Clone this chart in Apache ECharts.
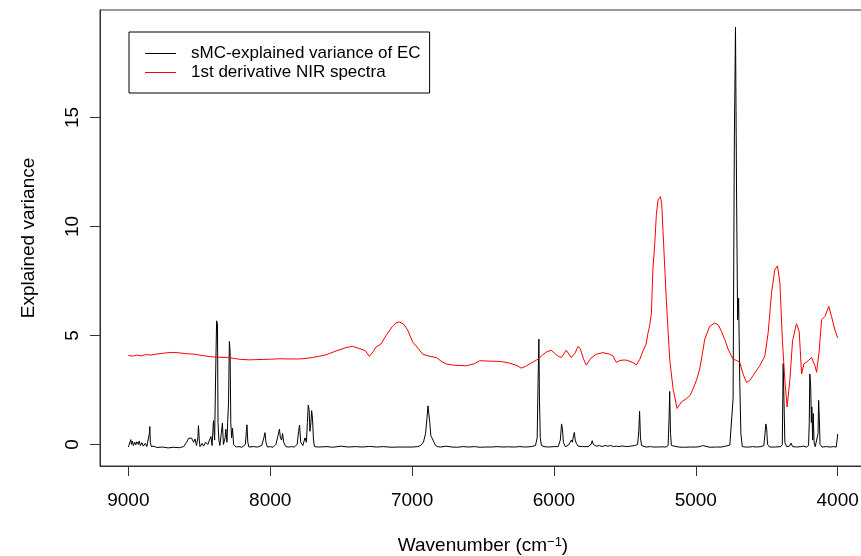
<!DOCTYPE html>
<html>
<head>
<meta charset="utf-8">
<script src="https://cdn.jsdelivr.net/npm/echarts@6/dist/echarts.min.js"></script>
<style>
  html, body { margin: 0; padding: 0; background: #fff; }
  #chart { width: 861px; height: 556px; }
</style>
</head>
<body>
<div id="chart"></div>
<script>
// sMC-explained variance of EC: [wavenumber, value]
const smcVariance = [
  [9000,-0.12],[8990,-0.05],[8983,0.22],[8978,0.0],[8972,0.15],[8965,-0.05],[8955,0.1],[8948,-0.02],
  [8940,0.12],[8930,0.0],[8924,0.15],[8915,-0.05],[8905,0.08],[8895,-0.08],[8880,0.05],[8870,-0.1],
  [8858,-0.05],[8852,0.5],[8849,0.82],[8845,0.1],[8838,-0.1],[8820,-0.08],[8800,-0.14],[8760,-0.12],
  [8720,-0.16],[8680,-0.13],[8640,-0.15],[8610,-0.1],[8590,0.1],[8575,0.28],[8555,0.29],[8540,0.1],
  [8530,0.25],[8520,-0.05],[8510,0.3],[8506,0.86],[8500,0.2],[8495,-0.1],[8480,0.05],[8470,-0.08],
  [8455,0.1],[8440,0.0],[8428,0.2],[8418,0.36],[8410,-0.05],[8400,1.09],[8392,0.2],[8384,3.5],
  [8378,5.67],[8372,5.52],[8368,1.0],[8362,0.2],[8355,-0.05],[8345,0.5],[8337,0.97],[8330,0.0],
  [8318,0.3],[8313,0.7],[8305,0.1],[8300,1.0],[8294,1.9],[8288,4.72],[8283,4.3],[8278,1.0],
  [8272,0.3],[8266,0.74],[8258,0.0],[8240,-0.12],[8220,-0.1],[8200,-0.13],[8175,0.0],[8168,0.6],
  [8164,0.9],[8158,0.1],[8150,-0.12],[8120,-0.1],[8090,-0.12],[8060,-0.05],[8045,0.3],[8037,0.54],
  [8030,0.1],[8020,-0.12],[8000,-0.1],[7980,-0.13],[7960,0.0],[7945,0.4],[7935,0.7],[7928,0.3],
  [7920,0.2],[7913,0.5],[7905,0.1],[7890,-0.1],[7870,-0.12],[7850,-0.1],[7830,-0.12],[7810,0.0],
  [7800,0.6],[7793,0.89],[7785,0.1],[7770,-0.05],[7755,0.3],[7745,0.1],[7738,1.0],[7732,1.8],
  [7726,1.6],[7720,0.6],[7713,1.0],[7708,1.55],[7702,1.2],[7695,0.2],[7688,-0.1],[7660,-0.12],
  [7600,-0.1],[7560,-0.13],[7500,-0.08],[7450,-0.12],[7400,-0.1],[7350,-0.12],[7300,-0.09],[7250,-0.12],
  [7200,-0.1],[7150,-0.13],[7100,-0.12],[7050,-0.12],[7000,-0.12],[6960,-0.1],[6940,-0.05],[6920,0.1],
  [6905,0.5],[6895,1.2],[6888,1.77],[6882,1.75],[6875,1.0],[6868,0.4],[6860,0.3],[6852,0.36],
  [6845,0.1],[6835,-0.05],[6820,-0.1],[6800,-0.12],[6760,-0.08],[6720,-0.12],[6680,-0.13],[6640,-0.1],
  [6600,-0.12],[6560,-0.1],[6520,-0.13],[6480,-0.12],[6440,-0.12],[6400,-0.1],[6360,-0.12],[6320,-0.11],
  [6280,-0.12],[6240,-0.1],[6200,-0.12],[6160,-0.1],[6130,-0.05],[6118,0.3],[6112,2.8],[6106,4.83],
  [6102,2.0],[6096,0.3],[6088,-0.05],[6070,-0.1],[6040,-0.12],[6000,-0.1],[5970,-0.1],[5955,0.2],
  [5946,0.94],[5940,0.7],[5933,0.1],[5920,-0.1],[5900,-0.05],[5885,0.1],[5877,0.2],[5870,0.1],
  [5862,0.4],[5856,0.55],[5850,0.2],[5842,0.05],[5830,-0.08],[5800,-0.1],[5760,-0.1],[5738,0.0],
  [5730,0.17],[5722,0.0],[5700,-0.08],[5680,-0.05],[5660,-0.1],[5640,-0.05],[5620,-0.08],[5600,-0.05],
  [5580,-0.1],[5560,-0.08],[5540,-0.1],[5520,-0.07],[5490,-0.1],[5460,-0.08],[5430,-0.05],[5410,0.0],
  [5402,0.6],[5396,1.52],[5390,0.3],[5382,-0.05],[5370,-0.1],[5350,-0.12],[5320,-0.1],[5300,-0.12],
  [5270,-0.12],[5240,-0.11],[5210,-0.12],[5195,-0.05],[5188,1.27],[5184,2.43],[5178,0.5],[5172,-0.05],
  [5160,-0.12],[5120,-0.12],[5080,-0.13],[5040,-0.12],[5000,-0.12],[4970,-0.1],[4953,-0.05],[4945,-0.12],
  [4900,-0.13],[4860,-0.12],[4820,-0.12],[4790,-0.08],[4760,-0.03],[4748,0.0],[4737,2.1],[4728,14.06],
  [4720,19.15],[4712,11.07],[4705,5.72],[4698,6.71],[4690,2.85],[4682,0.5],[4672,-0.1],[4650,-0.12],
  [4620,-0.12],[4600,-0.1],[4570,-0.12],[4540,-0.1],[4520,-0.05],[4512,0.5],[4506,0.94],[4500,0.69],
  [4494,0.0],[4480,-0.12],[4440,-0.12],[4400,-0.1],[4390,0.0],[4384,3.71],[4378,1.95],[4372,0.1],
  [4360,-0.1],[4340,-0.08],[4328,0.06],[4318,-0.1],[4290,-0.12],[4260,-0.1],[4240,-0.08],[4220,-0.12],
  [4205,-0.05],[4200,1.0],[4196,3.23],[4190,2.67],[4185,1.0],[4182,1.72],[4176,0.2],[4172,1.42],
  [4166,0.1],[4158,-0.1],[4145,-0.12],[4138,0.5],[4134,2.02],[4129,1.19],[4124,0.0],[4110,-0.12],
  [4080,-0.1],[4050,-0.12],[4030,-0.1],[4010,-0.12],[4002,0.3],[4000,0.48]
];

// 1st derivative NIR spectra (offset): [wavenumber, value]
const nirDerivative = [
  [9000,4.08],[8970,4.05],[8940,4.1],[8910,4.06],[8880,4.12],[8840,4.1],[8800,4.15],[8760,4.18],
  [8713,4.21],[8680,4.22],[8640,4.2],[8590,4.16],[8536,4.14],[8480,4.08],[8430,4.03],[8370,4.0],
  [8303,3.99],[8250,3.94],[8207,3.9],[8148,3.88],[8100,3.89],[8050,3.9],[7990,3.91],[7937,3.93],
  [7870,3.92],[7795,3.92],[7740,3.95],[7701,3.99],[7650,4.05],[7607,4.11],[7583,4.17],[7530,4.3],
  [7466,4.44],[7420,4.5],[7372,4.4],[7330,4.3],[7301,4.04],[7275,4.25],[7254,4.47],[7220,4.6],
  [7183,5.0],[7140,5.4],[7113,5.57],[7090,5.62],[7060,5.52],[7031,5.25],[6996,4.7],[6972,4.52],
  [6925,4.14],[6880,4.05],[6830,3.99],[6790,3.8],[6760,3.69],[6700,3.63],[6619,3.61],[6560,3.7],
  [6525,3.84],[6450,3.82],[6400,3.81],[6360,3.79],[6313,3.73],[6260,3.62],[6231,3.5],[6200,3.58],
  [6172,3.69],[6113,3.91],[6080,4.1],[6054,4.24],[6019,4.32],[5995,4.18],[5970,4.05],[5948,3.99],
  [5930,4.15],[5913,4.32],[5895,4.15],[5878,3.99],[5866,3.96],[5850,4.2],[5831,4.49],[5815,4.4],
  [5790,3.9],[5772,3.64],[5740,3.95],[5701,4.14],[5654,4.21],[5607,4.14],[5584,4.06],[5560,3.76],
  [5535,3.85],[5513,3.87],[5490,3.87],[5443,3.76],[5419,3.65],[5395,3.9],[5372,4.29],[5350,4.6],
  [5337,5.1],[5325,5.45],[5313,6.02],[5302,8.09],[5290,9.11],[5278,10.53],[5266,11.22],[5249,11.37],
  [5240,11.04],[5231,9.77],[5207,6.56],[5184,3.91],[5160,2.55],[5132,1.65],[5120,1.7],[5101,1.95],
  [5066,2.1],[5040,2.25],[5019,2.55],[4995,2.95],[4972,3.46],[4950,4.3],[4937,4.82],[4902,5.42],
  [4866,5.57],[4840,5.47],[4819,5.18],[4795,4.8],[4772,4.37],[4737,3.91],[4710,3.85],[4690,3.76],
  [4665,3.2],[4643,2.85],[4620,2.93],[4596,3.16],[4549,3.61],[4513,4.06],[4490,5.1],[4466,6.95],
  [4443,8.01],[4424,8.19],[4407,7.4],[4389,4.74],[4372,2.93],[4356,1.72],[4337,2.93],[4318,4.74],
  [4290,5.54],[4271,5.18],[4254,3.23],[4238,3.69],[4207,3.84],[4184,3.99],[4160,3.61],[4148,3.31],
  [4130,4.29],[4113,5.72],[4090,5.87],[4062,6.33],[4043,5.87],[4019,5.25],[4000,4.89]
];

const seriesNames = ['sMC-explained variance of EC', '1st derivative NIR spectra'];
const xTicks = [9000, 8000, 7000, 6000, 5000, 4000];
const yTicks = [0, 5, 10, 15];

const font = 'Liberation Sans, Arial, sans-serif';
const axisColor = '#333';

const chart = echarts.init(document.getElementById('chart'), null, { renderer: 'canvas' });

const option = {
  backgroundColor: '#fff',
  animation: false,
  grid: {
    left: 100,
    top: 10,
    width: 766,
    height: 456,
    outerBoundsMode: 'none',
    containLabel: false,
    show: true,
    borderColor: axisColor,
    borderWidth: 1
  },
  legend: {
    data: seriesNames,
    orient: 'vertical',
    left: 129,
    top: 32,
    padding: [12, 9, 11, 16],
    itemGap: 0,
    itemWidth: 31,
    itemHeight: 1,
    icon: 'rect',
    itemStyle: { borderWidth: 0 },
    borderColor: '#000',
    borderWidth: 1,
    borderRadius: 0,
    backgroundColor: '#fff',
    textStyle: { fontFamily: font, fontSize: 17, color: '#000', lineHeight: 19, padding: [0, 0, 0, 10] }
  },
  xAxis: {
    type: 'value',
    min: 3800,
    max: 9200,
    inverse: true,
    name: '{t|Wavenumber (cm}{s|−1}{t|)}',
    nameLocation: 'middle',
    nameGap: 70,
    nameTextStyle: {
      rich: {
        t: { fontFamily: font, fontSize: 19, color: '#000' },
        s: { fontFamily: font, fontSize: 13, color: '#000', verticalAlign: 'top' }
      }
    },
    splitLine: { show: false },
    axisLine: { show: true, onZero: false, lineStyle: { color: axisColor } },
    axisTick: { show: true, inside: false, length: 10, customValues: xTicks, lineStyle: { color: axisColor } },
    axisLabel: {
      customValues: xTicks,
      formatter: v => String(v),
      margin: 25,
      fontFamily: font,
      fontSize: 19,
      color: '#000'
    }
  },
  yAxis: {
    type: 'value',
    min: -0.99,
    max: 19.93,
    name: 'Explained variance',
    nameLocation: 'middle',
    nameGap: 62,
    nameRotate: 90,
    nameTextStyle: { fontFamily: font, fontSize: 19, color: '#000' },
    splitLine: { show: false },
    axisLine: { show: true, onZero: false, lineStyle: { color: axisColor } },
    axisTick: { show: true, inside: false, length: 10, customValues: yTicks, lineStyle: { color: axisColor } },
    axisLabel: {
      customValues: yTicks,
      formatter: v => String(v),
      rotate: 90,
      margin: 18,
      fontFamily: font,
      fontSize: 19,
      color: '#000'
    }
  },
  series: [
    {
      name: seriesNames[0],
      type: 'line',
      data: smcVariance,
      showSymbol: false,
      symbol: 'none',
      color: '#000',
      lineStyle: { color: '#000', width: 1 }
    },
    {
      name: seriesNames[1],
      type: 'line',
      data: nirDerivative,
      showSymbol: false,
      symbol: 'none',
      color: '#ff0000',
      lineStyle: { color: '#ff0000', width: 1 }
    }
  ]
};

chart.setOption(option);
</script>
</body>
</html>
